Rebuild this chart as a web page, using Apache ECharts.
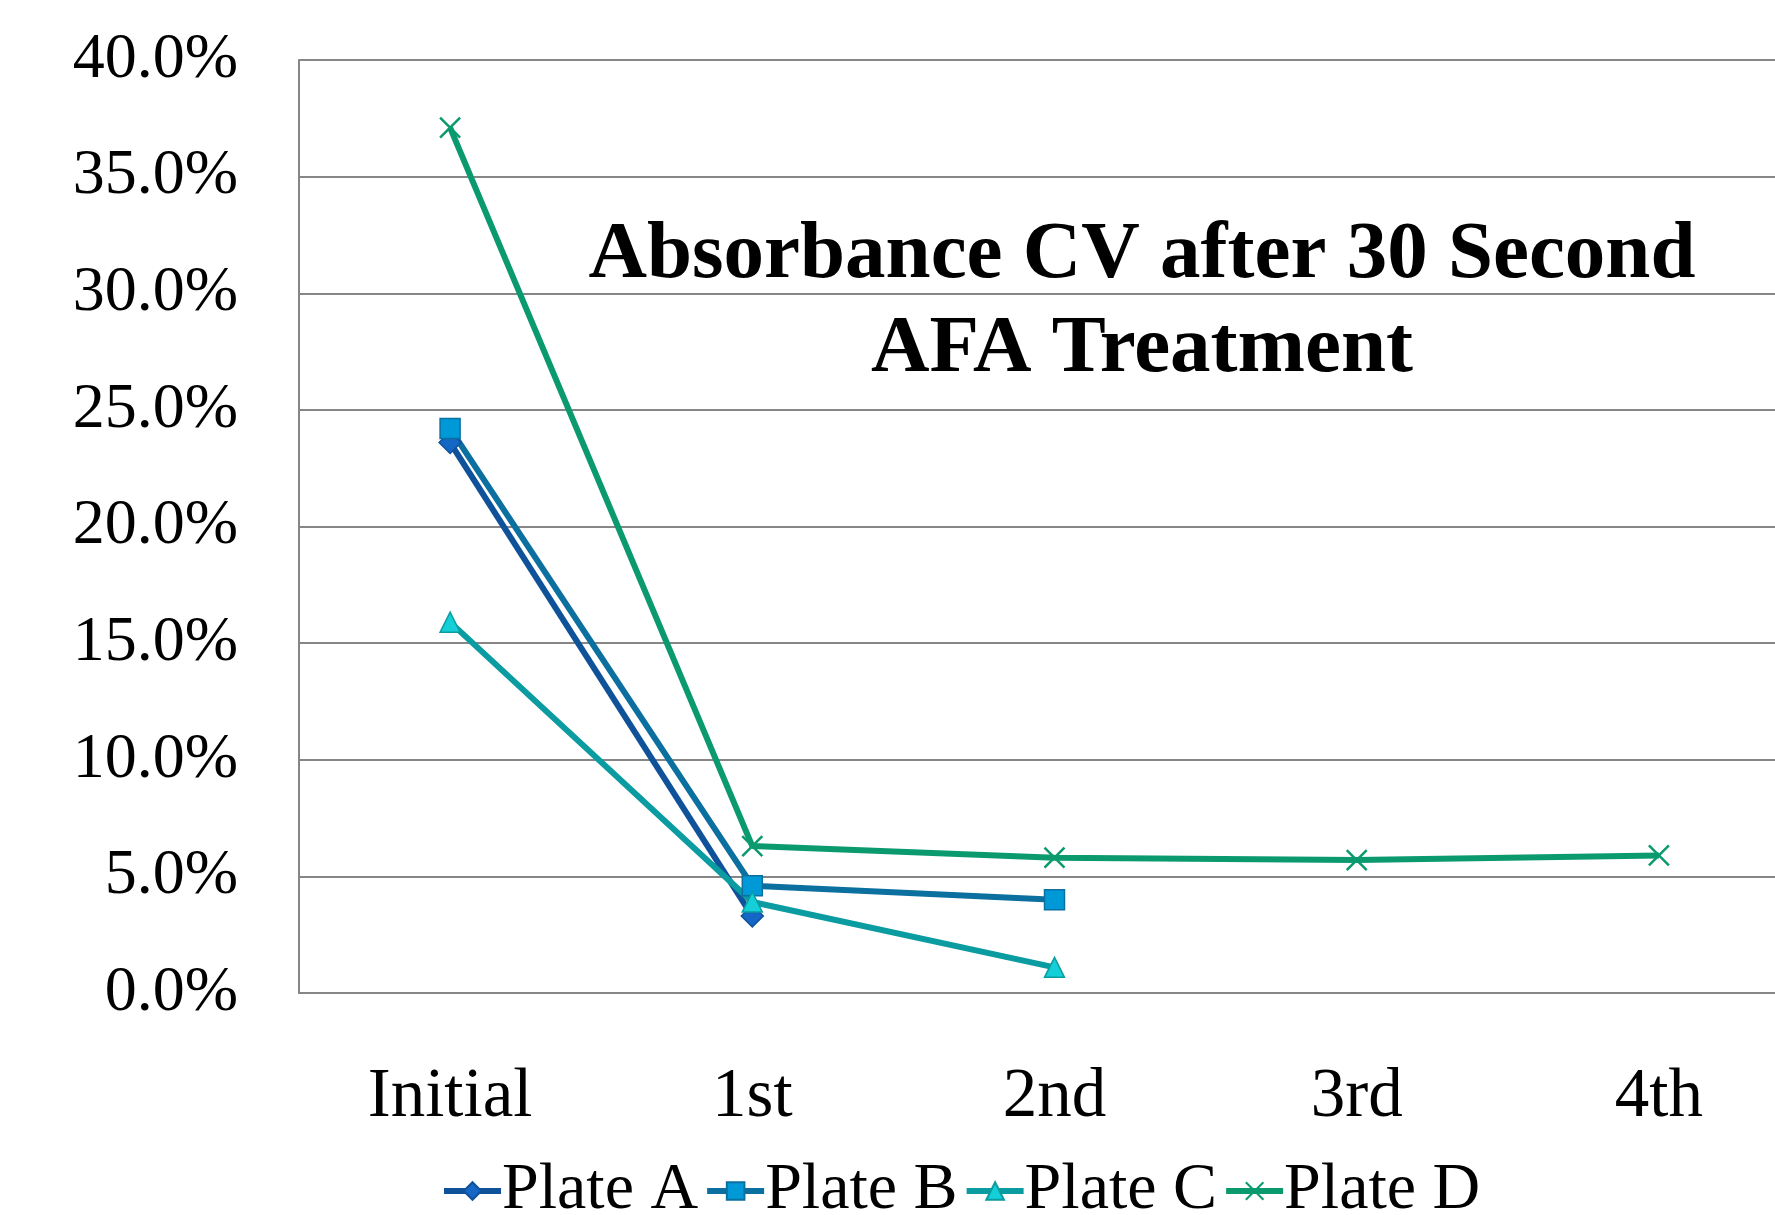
<!DOCTYPE html>
<html>
<head>
<meta charset="utf-8">
<script src="https://cdn.jsdelivr.net/npm/echarts@6/dist/echarts.min.js"></script>
<style>
  html, body { margin: 0; padding: 0; background: #fff; overflow: hidden; }
  /* 绘图区在原图中延伸到右边界之外, 所以容器比窗口略宽 */
  #chart { width: 1810px; height: 1215px; }
</style>
</head>
<body>
<div id="chart"></div>
<script>
// 横轴类别与各板的CV值(单位 %)
var categories = ['Initial', '1st', '2nd', '3rd', '4th']
var plateA = [23.6, 3.3, null, null, null]
var plateB = [24.2, 4.6, 4.0, null, null]
var plateC = [15.9, 3.9, 1.1, null, null]
var plateD = [37.1, 6.3, 5.8, 5.7, 5.9]
var seriesNames = ['Plate A', 'Plate B', 'Plate C', 'Plate D']
var titleText = 'Absorbance CV after 30 Second\nAFA Treatment'

var fontFamily = '"Liberation Serif", "DejaVu Serif", serif'
var crossPath = 'path://M0,0L10,10M10,0L0,10'

function makeSeries(name, data, symbol, lineColor, markColor, borderColor) {
  return {
    name: name,
    type: 'line',
    data: data,
    symbol: symbol,
    symbolSize: symbol === 'diamond' ? 22 : 20,
    showAllSymbol: true,
    lineStyle: { color: lineColor, width: 6 },
    itemStyle: {
      color: markColor,
      borderColor: borderColor,
      borderWidth: 1.5
    },
    emphasis: { disabled: true }
  }
}

var chart = echarts.init(document.getElementById('chart'))
var option = {
  animation: false,
  backgroundColor: '#ffffff',
  title: {
    text: titleText,
    left: 1137,
    top: 204,
    textAlign: 'center',
    textStyle: {
      fontFamily: fontFamily,
      fontWeight: 'bold',
      fontSize: 81,
      lineHeight: 94,
      color: '#000'
    }
  },
  legend: {
    data: seriesNames,
    left: 441,
    top: 1158,
    padding: 0,
    itemWidth: 57,
    itemHeight: 22,
    itemGap: 6,
    lineStyle: { width: 6 },
    textStyle: {
      fontFamily: fontFamily,
      fontSize: 66,
      color: '#000',
      padding: [0, 0, 0, -4]
    }
  },
  grid: {
    left: 299,
    right: 0,
    top: 60,
    bottom: 222,
    containLabel: false
  },
  xAxis: {
    type: 'category',
    data: categories,
    boundaryGap: true,
    axisLine: { lineStyle: { color: '#868686', width: 2 } },
    axisTick: { show: false },
    axisLabel: {
      margin: 70,
      fontFamily: fontFamily,
      fontSize: 69,
      color: '#000'
    }
  },
  yAxis: {
    type: 'value',
    min: 0,
    max: 40,
    interval: 5,
    axisLine: { show: true, lineStyle: { color: '#868686', width: 2 } },
    axisTick: { show: false },
    splitLine: { lineStyle: { color: '#868686', width: 2 } },
    axisLabel: {
      margin: 61,
      fontFamily: fontFamily,
      fontSize: 64,
      color: '#000',
      formatter: function (v) { return v.toFixed(1) + '%' }
    }
  },
  series: [
    makeSeries('Plate A', plateA, 'diamond', '#0F5299', '#1467C4', '#0F5299'),
    makeSeries('Plate B', plateB, 'rect', '#0B6F9F', '#0099D8', '#0B6F9F'),
    makeSeries('Plate C', plateC, 'triangle', '#0A9CA0', '#14CFD8', '#0A9CA0'),
    {
      name: 'Plate D',
      type: 'line',
      data: plateD,
      symbol: crossPath,
      symbolSize: 20,
      showAllSymbol: true,
      lineStyle: { color: '#0A9A6E', width: 6 },
      itemStyle: { color: 'transparent', borderColor: '#0A9A6E', borderWidth: 2.5 },
      emphasis: { disabled: true }
    }
  ]
}
chart.setOption(option)
</script>
</body>
</html>
